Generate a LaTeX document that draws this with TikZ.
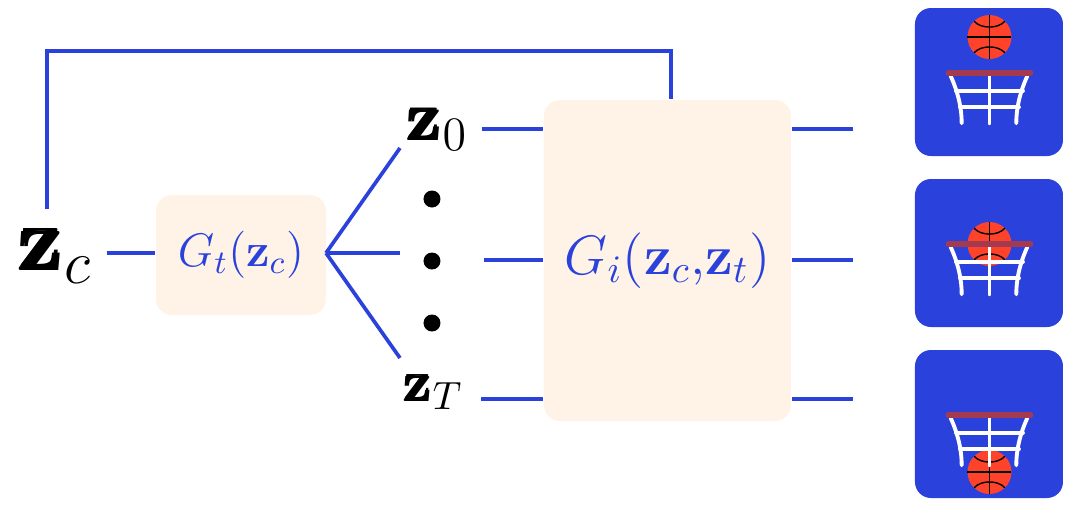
\documentclass[tikz,border=0pt]{standalone}
\usepackage{fix-cm}
\usepackage{amsmath,amssymb,bm}
\usepackage{xcolor}
\usepackage{tikz}
\definecolor{wireblue}{HTML}{2B41DC}
\definecolor{boxcream}{HTML}{FFF3E7}
\definecolor{ballred}{HTML}{FF432A}
\definecolor{rimred}{HTML}{A33A50}
\tikzset{
  wire/.style={draw=wireblue,line width=1.05pt},
  genbox/.style={fill=boxcream,rounded corners=0.16cm,text=wireblue,inner sep=0pt},
  latent/.style={inner ysep=0pt,text=black},
  dotnode/.style={circle,fill=black,inner sep=0pt,minimum size=0.17cm},
  tile/.style={fill=wireblue,rounded corners=0.16cm},
  netline/.style={draw=white,line width=1.1pt,line cap=round},
  seam/.style={draw=black,line width=0.4pt}
}
% #1 = top of the tile, #2 = height of the ball inside the tile
\newcommand{\hooptile}[2]{
  \begin{scope}[shift={(915,#1)}]
    \fill[tile] (0,0) rectangle (148,148);
    \fill[ballred] (74.5,#2) circle (22);
    \draw[seam] (52.5,#2) -- (96.5,#2);
    \draw[seam] (74.5,#2-22) -- (74.5,#2+22);
    \draw[seam] (59.2,#2-15.7) .. controls (66,#2-8) and (83,#2-8) .. (89.8,#2-15.7);
    \draw[seam] (59.2,#2+15.7) .. controls (66,#2+8) and (83,#2+8) .. (89.8,#2+15.7);
    \draw[netline] (35.7,68) .. controls (42,82) and (46.7,98) .. (46.7,115.3);
    \draw[netline] (112.3,68) .. controls (106,82) and (101.3,98) .. (101.3,115.3);
    \draw[netline] (74.5,68) -- (74.5,115.3);
    \draw[netline] (41,82.7) -- (108,82.7);
    \draw[netline] (45,99.3) -- (104,99.3);
    \draw[rimred,line width=1.6pt,line cap=round] (33.5,65) -- (115.5,65);
  \end{scope}
}

\begin{document}
\begin{tikzpicture}[x=0.1mm,y=-0.1mm]
  \useasboundingbox (0,0) rectangle (1080,513);
  % generator boxes
  \node[genbox,minimum width=1.70cm,minimum height=1.20cm,font=\fontsize{13.4}{16}\selectfont] (gt) at (241,255) {$G_t(\mathbf{z}_c)$};
  \node[genbox,minimum width=2.47cm,minimum height=3.21cm,font=\fontsize{15.8}{19}\selectfont] (gi) at (667.5,260.5) {$G_i(\mathbf{z}_c{,}\mathbf{z}_t)$};
  % latent labels
  \node[latent,inner xsep=0.14cm,font=\fontsize{25}{30}\selectfont] (zc) at (56,256) {$\pmb{\mathbf{z}}_c$};
  \node[latent,inner xsep=0.14cm,font=\fontsize{19.5}{23}\selectfont] (zzero) at (438,129) {$\pmb{\mathbf{z}}_0$};
  \node[latent,inner xsep=0.175cm,font=\fontsize{16}{19}\selectfont] (ztop) at (434,392) {$\pmb{\mathbf{z}}_T$};
  % three dots
  \node[dotnode] (dota) at (432,199) {};
  \node[dotnode] (dotb) at (432,261) {};
  \node[dotnode] (dotc) at (432,323) {};
  % free ends
  \coordinate (fanroot) at (326,253);
  \coordinate (fanzero) at (400,148);
  \coordinate (fanmid) at (400,253);
  \coordinate (fantop) at (400,358);
  \coordinate (midin) at (484,260);
  \coordinate (loopstart) at (47,209);
  \coordinate (loopcorner) at (671,51);
  % wires
  \draw[wire] (zc.east |- fanroot) -- (gt.west |- fanroot);
  \draw[wire] (fanroot) -- (fanzero);
  \draw[wire] (fanroot) -- (fanmid);
  \draw[wire] (fanroot) -- (fantop);
  \draw[wire] (zzero.east) -- (zzero.east -| gi.west);
  \draw[wire] (midin) -- (midin -| gi.west);
  \draw[wire] (ztop.east |- 0,399) -- (gi.west |- 0,399);
  \draw[wire] (loopstart) |- (loopcorner) -- (loopcorner |- gi.north);
  \foreach \n/\y in {a/129,b/260,c/399}
    {\coordinate (out\n) at (853,\y);
     \draw[wire] (out\n -| gi.east) -- (out\n);}
  % hoop pictures
  \hooptile{8}{29}
  \hooptile{179}{65}
  \hooptile{350}{122}
\end{tikzpicture}
\end{document}
